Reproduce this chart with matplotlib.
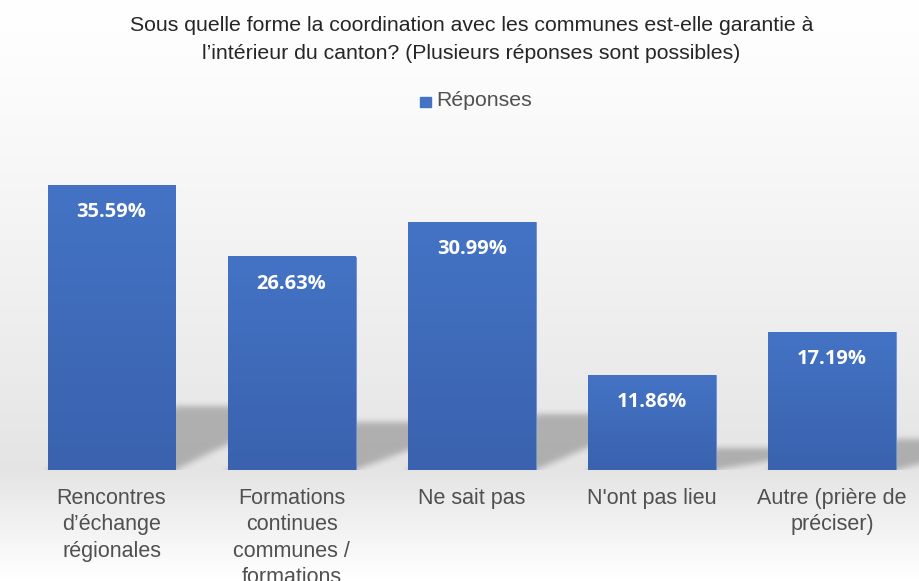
import numpy as np
import matplotlib
matplotlib.use("Agg")
import matplotlib.pyplot as plt
from matplotlib.colors import LinearSegmentedColormap

categories = ["Rencontres\nd’échange\nrégionales",
              "Formations\ncontinues\ncommunes /\nformations",
              "Ne sait pas",
              "N'ont pas lieu",
              "Autre (prière de\npréciser)"]
values = [35.59, 26.63, 30.99, 11.86, 17.19]
series_name = "Réponses"
title = "Sous quelle forme la coordination avec les communes est-elle garantie à\nl’intérieur du canton? (Plusieurs réponses sont possibles)"

W, H = 920, 581
fig = plt.figure(figsize=(W/100, H/100), dpi=100)

# background gradient
bg = fig.add_axes([0, 0, 1, 1], zorder=-10)
ys = np.linspace(0, 1, 400)  # 0 = top
def shade(t):
    py = t * H
    if py < 470:
        return 1.0 - 0.105 * (py / 470) ** 1.2
    else:
        return 0.895 + 0.105 * min(1, (py - 470) / 110)
col = np.array([shade(t) for t in ys])
img = np.repeat(col[:, None], 2, axis=1)
bg.imshow(np.dstack([img, img, img]), aspect='auto', extent=[0, 1, 0, 1], origin='upper')
bg.set_axis_off()

left = 21.5 / W
right = 922 / W
bottom = 1 - 470 / H
top = 1 - 150 / H
ax = fig.add_axes([left, bottom, right - left, top - bottom])
ax.patch.set_alpha(0)
x = np.arange(len(values))
bar_w = 0.71
bars = ax.bar(x, values, width=bar_w, color="#4472C4", edgecolor="#6a8fd3", linewidth=0.6, zorder=2)
ax.set_xlim(-0.5, len(values) - 0.5)
ax.set_ylim(0, 40)

# soft perspective shadows cast by the bars (derived from bar geometry)
xmin, xmax, ymin, ymax = -0.5, len(values) - 0.5, 0, 12
nx, ny = 900, 96
gx = np.linspace(xmin, xmax, nx)
gy = np.linspace(ymin, ymax, ny)
GX, GY = np.meshgrid(gx, gy)
mask = np.zeros_like(GX)
for b in bars:
    x0, x1, v = b.get_x(), b.get_x() + b.get_width(), b.get_height()
    hs = 0.225 * v
    t = GY / hs
    inside = (GY <= hs) & (GX >= x0 + bar_w * t) & (GX <= x1 + bar_w * t)
    mask = np.maximum(mask, inside.astype(float))
def blur(a, sigma, axis):
    r = int(3 * sigma)
    k = np.exp(-0.5 * (np.arange(-r, r + 1) / sigma) ** 2)
    k /= k.sum()
    return np.apply_along_axis(lambda m: np.convolve(np.pad(m, r, mode='edge'), k, mode='valid'), axis, a)
mask = blur(blur(mask, 4, 1), 3, 0)
rgba = np.zeros((ny, nx, 4))
rgba[..., 3] = 0.24 * mask
ax.imshow(rgba, extent=[xmin, xmax, ymin, ymax], origin='lower', aspect='auto', zorder=1)

cmap = LinearSegmentedColormap.from_list("b", ["#4473C5", "#3A62AE"])
for b in bars:
    x0, y0 = b.get_x(), b.get_y()
    w, h = b.get_width(), b.get_height()
    grad = np.linspace(0, 1, 100)[:, None]
    ax.imshow(grad, cmap=cmap, aspect='auto', extent=[x0, x0 + w, y0, y0 + h],
              origin='upper', zorder=2.5)
    ax.text(x0 + w / 2, y0 + h - 3.35, f"{b.get_height():.2f}%", ha='center', va='center',
            color='white', fontsize=14.5, fontweight='bold', family='Open Sans', zorder=3)

for s in ax.spines.values():
    s.set_visible(False)
ax.set_yticks([])
ax.set_xticks(x)
ax.set_xticklabels(categories, fontsize=15.5, color="#505050", family="Liberation Sans", linespacing=1.33, va='top')
ax.tick_params(axis='x', length=0, pad=13)
ax.set_xlim(-0.5, len(values) - 0.5)
ax.set_ylim(0, 40)

fig.text(471.5 / W, 1 - 39.5 / H, title, ha='center', va='center', fontsize=15.3,
         color="#262626", family="Liberation Sans", linespacing=1.65)

# legend
fig.patches.append(plt.Rectangle((420 / W, 1 - 107 / H), 11 / W, 10 / H, transform=fig.transFigure,
                                 color="#4472C4", figure=fig))
fig.text(436 / W, 1 - 101 / H, series_name, ha='left', va='center', fontsize=15.3,
         color="#505050", family="Liberation Sans")

fig.savefig("out.png", dpi=100)
